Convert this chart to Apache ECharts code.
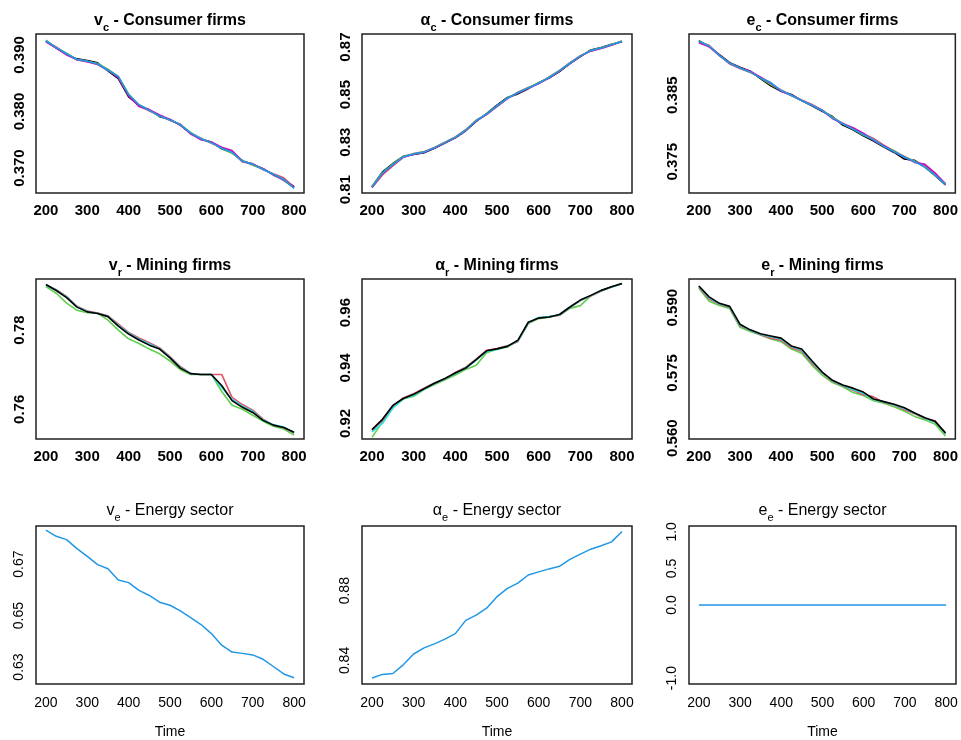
<!DOCTYPE html>
<html>
<head>
    <meta charset="utf-8">
    <script src="https://cdn.jsdelivr.net/npm/echarts@6/dist/echarts.min.js"></script>
</head>
<style>
    *{
        margin:0;
        padding:0;
    }
    body{
        background:#fff;
    }
</style>
<body>
<div id="main" style="width:961px;height:740px;"></div>
<script type="text/javascript">
    // time axis
    var time = [200,225,250,275,300,325,350,375,400,425,450,475,500,525,550,575,600,625,650,675,700,725,750,775,800];
    var xTicks = [200,300,400,500,600,700,800];

    // v_c - consumer firms
    var vcBlack   = [0.3925,0.3912,0.3901,0.3893,0.3890,0.3886,0.3872,0.3858,0.3826,0.3811,0.3803,0.3791,0.3786,0.3776,0.3762,0.3751,0.3746,0.3734,0.3727,0.3713,0.3706,0.3699,0.3688,0.3680,0.3667];
    var vcRed     = [0.3924,0.3914,0.3902,0.3891,0.3888,0.3884,0.3874,0.3861,0.3829,0.3810,0.3801,0.3793,0.3784,0.3778,0.3760,0.3753,0.3744,0.3736,0.3729,0.3711,0.3708,0.3697,0.3690,0.3683,0.3666];
    var vcGreen   = [0.3926,0.3913,0.3903,0.3892,0.3889,0.3885,0.3875,0.3862,0.3831,0.3812,0.3802,0.3792,0.3785,0.3777,0.3763,0.3752,0.3745,0.3735,0.3726,0.3714,0.3705,0.3698,0.3689,0.3678,0.3665];
    var vcMagenta = [0.3923,0.3912,0.3900,0.3892,0.3888,0.3883,0.3873,0.3860,0.3828,0.3809,0.3803,0.3794,0.3786,0.3776,0.3761,0.3750,0.3746,0.3737,0.3731,0.3712,0.3707,0.3699,0.3688,0.3679,0.3666];
    var vcBlue    = [0.3925,0.3913,0.3902,0.3892,0.3889,0.3884,0.3873,0.3862,0.3830,0.3812,0.3802,0.3792,0.3785,0.3777,0.3762,0.3752,0.3745,0.3735,0.3728,0.3712,0.3707,0.3698,0.3689,0.3680,0.3664];
    var vcTicks = ['0.370','0.380','0.390'];

    // alpha_c - consumer firms
    var acBlack   = [0.8112,0.8175,0.8210,0.8240,0.8248,0.8255,0.8274,0.8296,0.8318,0.8348,0.8387,0.8420,0.8456,0.8488,0.8503,0.8525,0.8550,0.8570,0.8597,0.8630,0.8660,0.8688,0.8698,0.8712,0.8722];
    var acRed     = [0.8108,0.8162,0.8200,0.8236,0.8252,0.8260,0.8278,0.8300,0.8322,0.8352,0.8392,0.8416,0.8450,0.8483,0.8510,0.8530,0.8546,0.8574,0.8602,0.8634,0.8664,0.8683,0.8694,0.8708,0.8726];
    var acGreen   = [0.8113,0.8172,0.8208,0.8240,0.8251,0.8259,0.8277,0.8299,0.8321,0.8351,0.8391,0.8419,0.8453,0.8486,0.8509,0.8529,0.8549,0.8573,0.8601,0.8633,0.8663,0.8686,0.8697,0.8711,0.8725];
    var acMagenta = [0.8110,0.8168,0.8204,0.8237,0.8249,0.8257,0.8275,0.8297,0.8319,0.8349,0.8389,0.8417,0.8451,0.8484,0.8507,0.8527,0.8547,0.8571,0.8599,0.8631,0.8661,0.8684,0.8695,0.8709,0.8723];
    var acBlue    = [0.8111,0.8170,0.8205,0.8238,0.8250,0.8258,0.8276,0.8298,0.8320,0.8350,0.8390,0.8418,0.8452,0.8485,0.8508,0.8528,0.8548,0.8572,0.8600,0.8632,0.8662,0.8685,0.8696,0.8710,0.8724];
    var acTicks = ['0.81','0.83','0.85','0.87'];

    // e_c - consumer firms
    var ecBlack   = [0.3932,0.3923,0.3911,0.3899,0.3892,0.3886,0.3875,0.3864,0.3856,0.3851,0.3842,0.3834,0.3826,0.3818,0.3805,0.3798,0.3789,0.3781,0.3772,0.3764,0.3754,0.3752,0.3742,0.3729,0.3715];
    var ecRed     = [0.3930,0.3925,0.3910,0.3897,0.3890,0.3884,0.3877,0.3867,0.3858,0.3850,0.3843,0.3836,0.3828,0.3816,0.3808,0.3800,0.3792,0.3785,0.3775,0.3766,0.3758,0.3750,0.3745,0.3732,0.3717];
    var ecGreen   = [0.3931,0.3924,0.3909,0.3898,0.3891,0.3885,0.3876,0.3866,0.3857,0.3849,0.3842,0.3835,0.3827,0.3817,0.3807,0.3799,0.3790,0.3783,0.3773,0.3767,0.3757,0.3751,0.3742,0.3730,0.3716];
    var ecMagenta = [0.3929,0.3923,0.3910,0.3898,0.3891,0.3886,0.3877,0.3868,0.3856,0.3850,0.3842,0.3835,0.3827,0.3815,0.3807,0.3801,0.3793,0.3782,0.3774,0.3765,0.3757,0.3749,0.3746,0.3733,0.3716];
    var ecBlue    = [0.3931,0.3924,0.3910,0.3898,0.3891,0.3885,0.3876,0.3869,0.3857,0.3850,0.3842,0.3835,0.3827,0.3816,0.3807,0.3799,0.3791,0.3783,0.3773,0.3765,0.3757,0.3750,0.3742,0.3730,0.3716];
    var ecTicks = ['0.375','0.385'];

    // v_r - mining firms
    var vrGreen = [0.7910,0.7893,0.7868,0.7850,0.7844,0.7843,0.7825,0.7800,0.7778,0.7766,0.7752,0.7740,0.7722,0.7700,0.7688,0.7688,0.7688,0.7645,0.7610,0.7600,0.7585,0.7570,0.7557,0.7550,0.7535];
    var vrRed   = [0.7914,0.7902,0.7885,0.7860,0.7848,0.7843,0.7836,0.7815,0.7794,0.7780,0.7768,0.7755,0.7733,0.7708,0.7690,0.7688,0.7688,0.7688,0.7630,0.7612,0.7598,0.7575,0.7560,0.7554,0.7540];
    var vrCyan  = [0.7913,0.7901,0.7884,0.7859,0.7847,0.7842,0.7835,0.7812,0.7792,0.7777,0.7765,0.7753,0.7731,0.7706,0.7690,0.7688,0.7688,0.7655,0.7625,0.7608,0.7595,0.7573,0.7561,0.7555,0.7541];
    var vrBlack = [0.7915,0.7900,0.7882,0.7858,0.7846,0.7842,0.7834,0.7810,0.7790,0.7775,0.7762,0.7752,0.7730,0.7704,0.7690,0.7688,0.7688,0.7660,0.7622,0.7605,0.7592,0.7572,0.7560,0.7554,0.7542];
    var vrTicks = ['0.76','0.78'];

    // alpha_r - mining firms
    var arGreen = [0.9150,0.9205,0.9258,0.9288,0.9298,0.9322,0.9340,0.9358,0.9375,0.9395,0.9410,0.9455,0.9468,0.9476,0.9498,0.9560,0.9578,0.9583,0.9590,0.9615,0.9625,0.9660,0.9678,0.9693,0.9705];
    var arRed   = [0.9176,0.9210,0.9262,0.9292,0.9307,0.9327,0.9346,0.9360,0.9384,0.9403,0.9432,0.9464,0.9470,0.9480,0.9495,0.9562,0.9581,0.9585,0.9590,0.9618,0.9643,0.9660,0.9678,0.9692,0.9704];
    var arCyan  = [0.9170,0.9200,0.9255,0.9289,0.9302,0.9324,0.9344,0.9361,0.9380,0.9401,0.9428,0.9460,0.9467,0.9479,0.9497,0.9563,0.9582,0.9586,0.9592,0.9619,0.9644,0.9661,0.9679,0.9692,0.9704];
    var arBlack = [0.9178,0.9215,0.9265,0.9290,0.9305,0.9325,0.9345,0.9362,0.9382,0.9400,0.9430,0.9462,0.9469,0.9478,0.9500,0.9565,0.9580,0.9584,0.9593,0.9620,0.9645,0.9662,0.9680,0.9693,0.9705];
    var arTicks = ['0.92','0.94','0.96'];

    // e_r - mining firms
    var erGreen = [0.5945,0.5915,0.5905,0.5898,0.5855,0.5845,0.5837,0.5828,0.5822,0.5805,0.5795,0.5768,0.5745,0.5728,0.5718,0.5705,0.5698,0.5686,0.5680,0.5672,0.5662,0.5650,0.5642,0.5632,0.5605];
    var erRed   = [0.5947,0.5920,0.5908,0.5901,0.5858,0.5848,0.5838,0.5830,0.5825,0.5808,0.5800,0.5772,0.5750,0.5731,0.5720,0.5710,0.5700,0.5695,0.5682,0.5676,0.5665,0.5656,0.5645,0.5640,0.5610];
    var erCyan  = [0.5949,0.5923,0.5909,0.5902,0.5860,0.5848,0.5839,0.5833,0.5828,0.5811,0.5803,0.5776,0.5751,0.5732,0.5721,0.5712,0.5703,0.5689,0.5683,0.5677,0.5668,0.5657,0.5646,0.5637,0.5611];
    var erBlack = [0.5950,0.5925,0.5910,0.5903,0.5862,0.5849,0.5840,0.5835,0.5830,0.5812,0.5805,0.5778,0.5752,0.5733,0.5722,0.5715,0.5706,0.5690,0.5684,0.5678,0.5670,0.5658,0.5647,0.5638,0.5612];
    var erTicks = ['0.560','0.575','0.590'];

    // energy sector
    var veValues = [0.6832,0.6808,0.6795,0.6760,0.6730,0.6698,0.6682,0.6638,0.6628,0.6598,0.6578,0.6552,0.6540,0.6518,0.6492,0.6465,0.6430,0.6385,0.6358,0.6353,0.6347,0.6330,0.6302,0.6273,0.6258];
    var veTicks = ['0.63','0.65','0.67'];
    var aeValues = [0.8299,0.8320,0.8325,0.8375,0.8437,0.8472,0.8495,0.8522,0.8554,0.8630,0.8660,0.8700,0.8766,0.8813,0.8843,0.8890,0.8908,0.8925,0.8940,0.8980,0.9010,0.9038,0.9058,0.9080,0.9140];
    var aeTicks = ['0.84','0.88'];
    var eeValues = [0,0,0,0,0,0,0,0,0,0,0,0,0,0,0,0,0,0,0,0,0,0,0,0,0];
    var eeTicks = ['-1.0','0.0','0.5','1.0'];

    // R default palette
    var pal = {black:'#000000', red:'#DF536B', green:'#61D04F', blue:'#2297E6', cyan:'#28E2E5', magenta:'#CD0BBC', yellow:'#F5C710', gray:'#9E9E9E'};

    var cols = [{left:36, width:268}, {left:362, width:270}, {left:689, width:267}];
    var rows = [{top:34, height:159, titleTop:13, bold:true},
                {top:279, height:160, titleTop:258, bold:true},
                {top:526, height:158, titleTop:503, bold:false}];

    var panels = [
        {r:0, c:0, sym:'v', sub:'c', rest:' - Consumer firms', yMin:0.3656, yMax:0.3937, ticks:vcTicks,
            lines:[['black',vcBlack],['red',vcRed],['green',vcGreen],['magenta',vcMagenta],['blue',vcBlue]]},
        {r:0, c:1, sym:'α', sub:'c', rest:' - Consumer firms', yMin:0.8086, yMax:0.8755, ticks:acTicks,
            lines:[['black',acBlack],['red',acRed],['green',acGreen],['magenta',acMagenta],['blue',acBlue]]},
        {r:0, c:2, sym:'e', sub:'c', rest:' - Consumer firms', yMin:0.3703, yMax:0.3942, ticks:ecTicks,
            lines:[['black',ecBlack],['red',ecRed],['green',ecGreen],['magenta',ecMagenta],['blue',ecBlue]]},
        {r:1, c:0, sym:'v', sub:'r', rest:' - Mining firms', yMin:0.7525, yMax:0.7929, ticks:vrTicks,
            lines:[['green',vrGreen],['red',vrRed],['cyan',vrCyan],['black',vrBlack]]},
        {r:1, c:1, sym:'α', sub:'r', rest:' - Mining firms', yMin:0.9144, yMax:0.9721, ticks:arTicks,
            lines:[['green',arGreen],['red',arRed],['cyan',arCyan],['black',arBlack]]},
        {r:1, c:2, sym:'e', sub:'r', rest:' - Mining firms', yMin:0.5598, yMax:0.5966, ticks:erTicks,
            lines:[['green',erGreen],['red',erRed],['cyan',erCyan],['black',erBlack]]},
        {r:2, c:0, sym:'v', sub:'e', rest:' - Energy sector', yMin:0.6234, yMax:0.6848, ticks:veTicks,
            lines:[['blue',veValues]]},
        {r:2, c:1, sym:'α', sub:'e', rest:' - Energy sector', yMin:0.8265, yMax:0.9171, ticks:aeTicks,
            lines:[['blue',aeValues]]},
        {r:2, c:2, sym:'e', sub:'e', rest:' - Energy sector', yMin:-1.08, yMax:1.08, ticks:eeTicks,
            lines:[['blue',eeValues]]}
    ];

    var font = 'Liberation Sans, Arial, sans-serif';
    var option = {
        animation:false,
        backgroundColor:'#fff',
        title:[], grid:[], xAxis:[], yAxis:[], series:[]
    };

    panels.forEach(function(p, i){
        var row = rows[p.r], col = cols[p.c];
        var fw = row.bold ? 'bold' : 'normal';
        option.title.push({
            text:'{a|' + p.sym + '}{s|' + p.sub + '}{a|' + p.rest + '}',
            left: col.left + col.width / 2,
            top: row.titleTop,
            textAlign:'center',
            padding:0,
            textStyle:{
                rich:{
                    a:{fontSize:16, fontWeight:fw, color:'#000', fontFamily:font, verticalAlign:'bottom', padding:[0,0,4,0]},
                    s:{fontSize:11, fontWeight:fw, color:'#000', fontFamily:font, verticalAlign:'bottom'}
                }
            }
        });
        option.grid.push({
            left:col.left, top:row.top, width:col.width, height:row.height,
            show:true, borderColor:'#222', borderWidth:1.5, backgroundColor:'transparent'
        });
        var labelBase = {color:'#000', fontFamily:font, fontWeight:fw, fontSize: row.bold ? 15 : 14};
        option.xAxis.push({
            gridIndex:i, type:'value', min:176, max:824,
            axisLine:{show:false}, axisTick:{show:false}, splitLine:{show:false},
            axisLabel:Object.assign({customValues:xTicks, margin: row.bold ? 10 : 12}, labelBase),
            name: p.r === 2 ? 'Time' : '',
            nameLocation:'middle', nameGap:41,
            nameTextStyle:{color:'#000', fontFamily:font, fontSize:14}
        });
        var tickVals = p.ticks.map(function(t){ return parseFloat(t); });
        var ticks = p.ticks;
        option.yAxis.push({
            gridIndex:i, type:'value', min:p.yMin, max:p.yMax,
            axisLine:{show:false}, axisTick:{show:false}, splitLine:{show:false},
            axisLabel:Object.assign({
                customValues:tickVals, rotate:90, margin: row.bold ? 9 : 10,
                formatter:function(v){
                    for (var k = 0; k < tickVals.length; k++) {
                        if (Math.abs(tickVals[k] - v) < 1e-9) return ticks[k];
                    }
                    return '';
                }
            }, labelBase)
        });
        p.lines.forEach(function(l){
            option.series.push({
                type:'line', xAxisIndex:i, yAxisIndex:i,
                data: time.map(function(t, k){ return [t, l[1][k]]; }),
                symbol:'none', silent:true,
                lineStyle:{color:pal[l[0]], width: p.r === 2 ? 1.5 : 1.6},
                itemStyle:{color:pal[l[0]]}
            });
        });
    });

    var myChart = echarts.init(document.getElementById('main'));
    myChart.setOption(option);
</script>
</body>
</html>
